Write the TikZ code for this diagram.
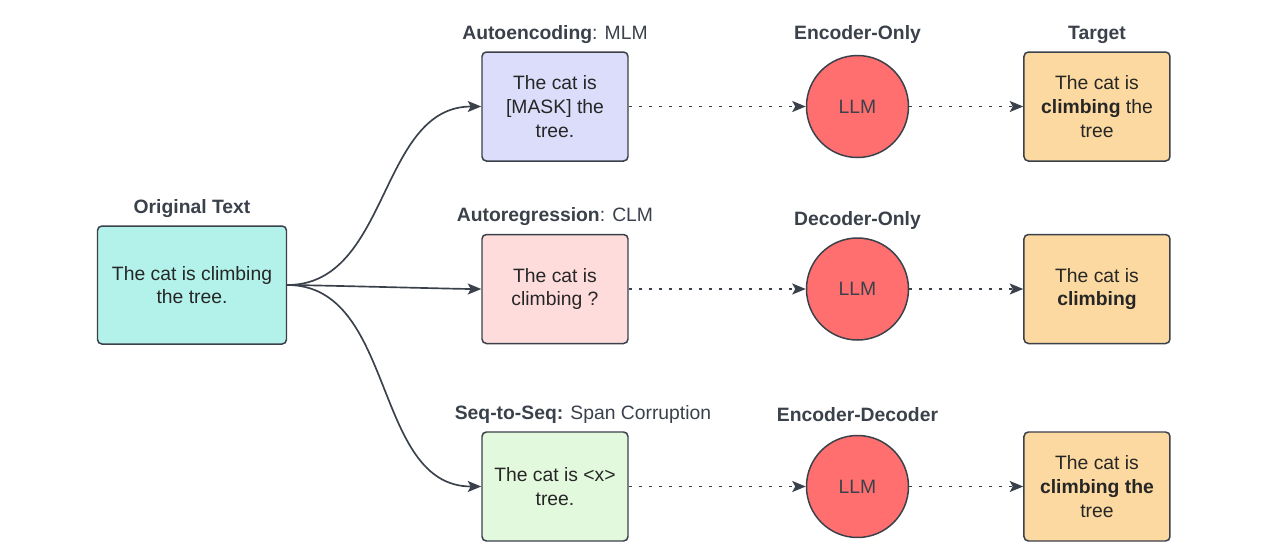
\documentclass[tikz,border=0pt]{standalone}
\usepackage{fontspec}
\setmainfont{Liberation Sans}
\usepackage{tikz}
\usetikzlibrary {arrows.meta,
                 positioning}
\definecolor{linegray}{HTML}{3A414A}
\definecolor{origfill}{HTML}{B3F2EA}
\definecolor{maskfill}{HTML}{DCDDFB}
\definecolor{clmfill}{HTML}{FFDCDC}
\definecolor{spanfill}{HTML}{E3F9DE}
\definecolor{targetfill}{HTML}{FCD9A0}
\definecolor{llmfill}{HTML}{FF6F6F}
\tikzset{
        base/.style={draw=linegray, line width=0.85pt, align=center,
                     font=\fontsize{11}{13.5}\selectfont, text=black!85},
        txtbox/.style={base, rectangle, rounded corners=2.5pt,
                       minimum width=2.92cm, minimum height=2.18cm},
        origbox/.style={txtbox, fill=origfill, minimum width=3.78cm,
                        minimum height=2.36cm},
        llm/.style={base, circle, fill=llmfill, minimum size=2.04cm,
                    text=linegray},
        head/.style={font=\fontsize{11}{13}\selectfont\bfseries, text=linegray},
        every label/.style={head},
        label distance=1pt,
        myarrow/.style={-{Stealth[length=2.7mm, width=2.2mm, inset=0.6mm]},
                        line width=0.95pt, draw=linegray},
        dotarrow/.style={myarrow, dash pattern=on 1.7pt off 4pt},
 }

\begin{document}
\begin{tikzpicture}
    \useasboundingbox (0,0) rectangle (25.6,-10.88);

    \node[origbox, label=above:{Original Text}] (orig) at (3.84,-5.70)
        {The cat is climbing\\the tree.};

    \node[txtbox, fill=clmfill, right=3.88cm of orig, yshift=-0.08cm,
          label=above:{Autoregression\textmd{: CLM}}] (clm)
        {The cat is\\climbing ?};
    \node[txtbox, fill=maskfill, above=1.44cm of clm,
          label=above:{Autoencoding\textmd{: MLM}}] (mlm)
        {The cat is\\{[MASK]} the\\tree.};
    \node[txtbox, fill=spanfill, below=1.74cm of clm,
          label={[xshift=0.56cm]above:Seq-to-Seq: \textmd{Span Corruption}}] (span)
        {The cat is <x>\\tree.};

    \node[llm, right=3.54cm of mlm, label={[yshift=2pt]above:Encoder-Only}] (enc) {LLM};
    \node[llm, right=3.54cm of clm, label=above:{Decoder-Only}] (dec) {LLM};
    \node[llm, right=3.54cm of span, label={[yshift=3pt]above:Encoder-Decoder}] (encdec) {LLM};

    \node[txtbox, fill=targetfill, right=2.28cm of enc, label=above:{Target}] (t1)
        {The cat is\\\textbf{climbing} the\\tree};
    \node[txtbox, fill=targetfill, right=2.28cm of dec] (t2)
        {The cat is\\\textbf{climbing}};
    \node[txtbox, fill=targetfill, right=2.28cm of encdec] (t3)
        {The cat is\\\textbf{climbing the}\\tree};

    \draw[myarrow] (orig.east) to[out=0, in=180] (mlm.west);
    \draw[myarrow] (orig.east) to[out=0, in=180, looseness=0.3] (clm.west);
    \draw[myarrow] (orig.east) to[out=0, in=180] (span.west);

    \draw[dotarrow] (mlm) -- (enc);
    \draw[dotarrow] (clm) -- (dec);
    \draw[dotarrow] (span) -- (encdec);
    \draw[dotarrow] (enc) -- (t1);
    \draw[dotarrow] (dec) -- (t2);
    \draw[dotarrow] (encdec) -- (t3);
\end{tikzpicture}
\end{document}
